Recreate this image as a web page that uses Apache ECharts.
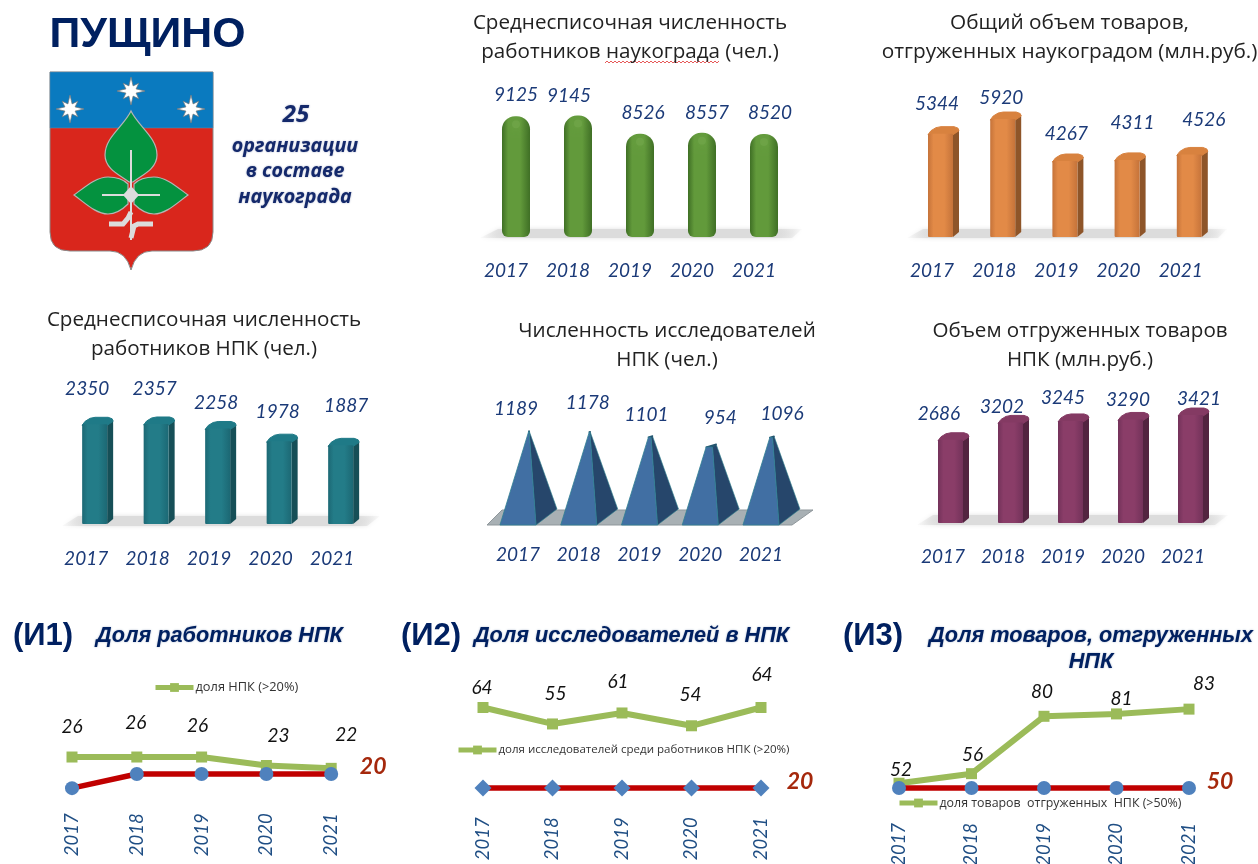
<!DOCTYPE html>
<html><head><meta charset="utf-8">
<style>html,body{margin:0;padding:0;background:#fff}#c{width:1258px;height:864px}</style>
<script src="https://cdn.jsdelivr.net/npm/echarts@6/dist/echarts.min.js"></script>
</head><body><div id="c"></div>
<script>
// ---------- data ----------
const years = ['2017','2018','2019','2020','2021'];
const staffScience = [9125,9145,8526,8557,8520];
const goodsScience = [5344,5920,4267,4311,4526];
const staffNpk = [2350,2357,2258,1978,1887];
const researchersNpk = [1189,1178,1101,954,1096];
const goodsNpk = [2686,3202,3245,3290,3421];
const shareStaff = [26,26,26,23,22];
const shareStaffTarget = [15,20,20,20,20];
const shareResearchers = [64,55,61,54,64];
const shareResearchersTarget = [20,20,20,20,20];
const shareGoods = [52,56,80,81,83];
const shareGoodsTarget = [50,50,50,50,50];

// ---------- layout ----------
const SANS = '"Open Sans","Noto Sans",sans-serif';
const NUM = 'Lato,"Open Sans",sans-serif';
const NAVY = '#1b3a78';
const H = (a,b,c)=>new echarts.graphic.LinearGradient(0,0,1,0,[{offset:0,color:a},{offset:.22,color:b},{offset:.65,color:b},{offset:1,color:a}]);
const option = {animation:false,backgroundColor:'#fff',grid:[],xAxis:[],yAxis:[],series:[],legend:[],title:[],graphic:[]};

function addAxes(g,axisMin,axisMax,label){
  const idx = option.grid.length;
  option.grid.push({left:g[0],top:g[1],width:g[2],height:g[3],outerBoundsMode:'none'});
  option.xAxis.push({type:'category',gridIndex:idx,data:years,axisLine:{show:false},axisTick:{show:false},
    axisLabel:Object.assign({interval:0,color:NAVY,fontFamily:NUM,fontStyle:'italic',fontSize:19,hideOverlap:false},label)});
  option.yAxis.push({type:'value',gridIndex:idx,min:axisMin,max:axisMax,show:false,splitLine:{show:false}});
  return idx;
}
function tLabel(x,y,v){
  return {type:'text',z2:50,style:{text:String(v),x,y,fill:NAVY,font:`italic 19px ${NUM}`,align:'center',verticalAlign:'middle'}};
}
function barSeries(idx,values,offs,render){
  option.series.push({type:'custom',xAxisIndex:idx,yAxisIndex:idx,clip:false,encode:{x:0,y:1},silent:true,
    data:values.map((v,i)=>[i,v]),
    renderItem(p,api){
      const i=api.value(0),v=api.value(1),pt=api.coord([i,v]);
      const base=api.coord([i,option.yAxis[idx].min])[1];
      const kids=render(pt[0],pt[1],base,api,i);
      kids.push(tLabel(pt[0]+offs[i][0],pt[1]+offs[i][1],v));
      return {type:'group',children:kids};
    }});
}
function cylinder(c,t,b){
  return [
    {type:'rect',shape:{x:c-14,y:t,width:28,height:b-t,r:[13,13,6,6]},style:{fill:H('#3f6f25','#629a3b')}},
    {type:'circle',shape:{cx:c,cy:t+8,r:4},style:{fill:'rgba(130,180,90,.3)',shadowBlur:8,shadowColor:'rgba(135,185,90,.8)'}}
  ];
}
function box(cols){
  return (c,t,b)=>[
    {type:'polygon',shape:{points:[[c+10,t+7],[c+16,t+3],[c+16,b-5],[c+10,b]]},style:{fill:cols.side}},
    {type:'polygon',shape:{points:[[c-15,t+8],[c-12,t+4],[c-7,t+1],[c-2,t],[c+11,t],[c+15,t+1.5],[c+16,t+4],[c+10,t+8]]},style:{fill:cols.top,stroke:cols.top,lineWidth:1,lineJoin:'round'}},
    {type:'rect',shape:{x:c-15,y:t+7,width:25,height:b-t-7,r:[1,1,1,1]},style:{fill:H(cols.a,cols.b)}}
  ];
}
function pyramid(axisMax){
  return (c,t,b,api,i)=>{
    const apexY=api.coord([i,axisMax])[1],apexX=c+11;
    const f=(b-t)/(b-apexY);
    const lerp=(x,y)=>[x+(apexX-x)*f,y+(apexY-y)*f];
    const fl=[c-18,b],fr=[c+18,b],br=[c+39,b-16],fl2=lerp(fl[0],fl[1]),fr2=lerp(fr[0],fr[1]),br2=lerp(br[0],br[1]);
    return [
      {type:'polygon',shape:{points:[fr,br,br2,fr2]},style:{fill:'#26466b',stroke:'#2b7f8c',lineWidth:.6}},
      {type:'polygon',shape:{points:[fl2,fr2,br2]},style:{fill:'#24556f',stroke:'#24556f',lineWidth:1.5,lineJoin:'round'}},
      {type:'polygon',shape:{points:[fl,fr,fr2,fl2]},style:{fill:'#416fa3',stroke:'#2f7f92',lineWidth:.8}}
    ];
  };
}
function floor(pts){
  const col='#dcdcdc';
  option.graphic.push({type:'polygon',z:0,shape:{points:pts},style:{
    fill:new echarts.graphic.LinearGradient(0,0,1,0,[{offset:0,color:'rgba(220,220,220,.1)'},{offset:.08,color:col},{offset:.92,color:col},{offset:1,color:'rgba(220,220,220,.1)'}]),
    shadowBlur:4,shadowColor:'rgba(215,215,215,.8)'}});
}

// ---------- top charts ----------
floor([[480,238],[498,229],[802,229],[792,238]]);
barSeries(addAxes([485,105.2,310,131.8],5000,9500,{margin:24,padding:[0,20,0,0]}),staffScience,
  [[0,-21],[-9,-20],[3,-21],[5,-20],[6,-21]],cylinder);

floor([[907,238],[923,229],[1227,229],[1218,238]]);
barSeries(addAxes([911.9,97.3,311,139.7],1000,6500,{margin:24,padding:[0,22,0,0]}),goodsScience,
  [[-6,-23],[-4,-14],[-1,-20],[3,-30],[12,-28]],
  box({a:'#c5733a',b:'#e28a47',side:'#8e5529',top:'#d8823f'}));

floor([[62,526],[78,516],[380,516],[367,526]]);
barSeries(addAxes([66.4,410.5,307.5,113.5],0,2500,{margin:25,padding:[0,22,0,0]}),staffNpk,
  [[-10,-28],[-4,-28],[-4,-19],[-4,-22],[3,-32]],
  box({a:'#1c6874',b:'#237c88',side:'#164f57',top:'#1f7a87'}));

// pyramid floor
option.graphic.push({type:'polygon',z:0,shape:{points:[[487,525],[792,525],[813,510],[502,510]]},style:{fill:'#a8b0b4',stroke:'#8f979b',lineWidth:1}});
barSeries(addAxes([487.6,430.5,303.75,94.5],-200,1200,{margin:20}),researchersNpk,
  [[-2,-22],[9,-29],[7,-22],[20,-29],[21,-24]],pyramid(1200));

floor([[917,525],[933,515],[1228,515],[1215,525]]);
barSeries(addAxes([923,405.4,300,117.6],0,3500,{margin:24,padding:[0,20,0,0]}),goodsNpk,
  [[-14,-19],[-11,-9],[-10,-16],[-5,-13],[6,-9]],
  box({a:'#73325a',b:'#8a3d68',side:'#532440',top:'#843a63'}));

// ---------- line charts ----------
function lineChart(g,min,max,margin,name,vals,target,offs,targetOff,tSym,tSize,legendPos){
  const idx=addAxes(g,min,max,{rotate:90,margin,fontSize:18.5,color:'#1f4e84'});
  option.series.push({name,type:'line',xAxisIndex:idx,yAxisIndex:idx,z:3,silent:true,
    lineStyle:{color:'#9bbb59',width:6},itemStyle:{color:'#9bbb59'},symbol:'rect',symbolSize:11,
    data:vals.map((v,i)=>({value:v,label:{show:true,position:'inside',offset:offs[i],color:'#111',fontFamily:NUM,fontStyle:'italic',fontSize:19}}))});
  option.series.push({name:name+' порог',type:'line',xAxisIndex:idx,yAxisIndex:idx,z:4,silent:true,
    lineStyle:{color:'#c00000',width:5.5},itemStyle:{color:'#4f81bd'},symbol:tSym,symbolSize:tSize,
    data:target.map((v,i)=>i===target.length-1?{value:v,label:{show:true,position:'inside',offset:targetOff,color:'#a5280c',fontFamily:NUM,fontStyle:'italic',fontWeight:'bold',fontSize:23}}:v)});
  option.legend.push({data:[{name}],left:legendPos[0],top:legendPos[1],itemWidth:38,itemHeight:11,itemGap:0,padding:0,
    selectedMode:false,lineStyle:{width:5},textStyle:{color:'#333',fontFamily:SANS,fontSize:legendPos[2],padding:[0,0,0,-3]}});
}
lineChart([39.6,745.7,324,56.6],10,30,11,'доля НПК (>20%)',shareStaff,shareStaffTarget,
  [[0,-30],[-1,-34],[-4,-31],[12,-30],[15,-33]],[42,-7],'circle',14,[153,681,12.8]);
lineChart([448.25,678.2,347.5,128.1],10,80,11,'доля исследователей среди работников НПК (>20%)',shareResearchers,shareResearchersTarget,
  [[-1,-20],[3,-30],[-4,-31],[-1,-31],[1,-33]],[39,-6],'diamond',17,[456,744,11.5]);
lineChart([862.75,668.5,362.5,143.4],40,100,11,'доля товаров  отгруженных  НПК (>50%)',shareGoods,shareGoodsTarget,
  [[2,-13],[1,-19],[-2,-24],[5,-15],[15,-25]],[31,-6],'circle',14,[897,797,12.4]);

// ---------- titles ----------
function addTitle(text,cx,y,size,lh,extra){
  option.title.push({text,left:cx,top:y,textAlign:'center',padding:0,itemGap:0,
    textStyle:Object.assign({color:'#222',fontFamily:SANS,fontWeight:'normal',fontSize:size,lineHeight:lh},extra||{})});
}
addTitle('Среднесписочная численность\nработников наукограда (чел.)',630,9,20.6,29);
addTitle('Общий объем товаров,\nотгруженных наукоградом (млн.руб.)',1069.5,9,20.8,29);
addTitle('Среднесписочная численность\nработников НПК (чел.)',204,306,20.6,29);
addTitle('Численность исследователей\nНПК (чел.)',667,317,20.6,29);
addTitle('Объем отгруженных товаров\nНПК (млн.руб.)',1080,317,20.6,29);

const HEAD={color:'#002060',fontFamily:'"Liberation Sans",Arial,sans-serif',fontWeight:'bold'};
addTitle('ПУЩИНО',147.5,11,42.8,48,HEAD);
const SUB=Object.assign({},HEAD,{fontStyle:'italic',fontSize:21.7,lineHeight:26,textShadowColor:'rgba(0,32,96,.35)',textShadowBlur:2});
addTitle('(И1)',43,618,31,36,HEAD);
addTitle('Доля работников НПК',219.5,623,21.7,26,SUB);
addTitle('(И2)',431,618,31,36,HEAD);
addTitle('Доля исследователей в НПК',631.5,623,21.7,26,SUB);
addTitle('(И3)',873,618,31,36,HEAD);
addTitle('Доля товаров, отгруженных\nНПК',1091,623,21.7,26,SUB);

const INFO={color:'#14296b',fontFamily:SANS,fontWeight:'bold',fontStyle:'italic',textShadowColor:'rgba(20,41,107,.4)',textShadowBlur:2};
addTitle('25',296,100,24,30,INFO);
addTitle('организации\nв составе\nнаукограда',295,133.5,19.7,25.5,INFO);

// spell-check squiggle under «наукограда»
const squiggle=[];for(let x=605,k=0;x<=720;x+=2,k++)squiggle.push([x,k%2?61:63]);
option.graphic.push({type:'polyline',z:5,shape:{points:squiggle},style:{stroke:'#e03030',lineWidth:.8,fill:null}});

// ---------- coat of arms (drawn as a none-coordinate custom series) ----------
const SHIELD='M50 72H213V232Q213 251 193 251H152Q136 251 131 270Q126 251 110 251H70Q50 251 50 232Z';
function star(cx,cy){
  const pts=[];for(let i=0;i<16;i++){const a=i*Math.PI/8-Math.PI/2,r=i%4===0?14:(i%2===0?11:5.5);pts.push([cx+r*Math.cos(a),cy+r*Math.sin(a)]);}
  return {type:'polygon',shape:{points:pts},style:{fill:'#fff',stroke:'#777',lineWidth:.7}};
}
const LEAF={fill:'#04923f',stroke:'#b5b5b5',lineWidth:1.2};
const SILVER='#dcdcdc';
option.series.push({type:'custom',coordinateSystem:'none',silent:true,z:6,data:[0],renderItem(){
  return {type:'group',children:[
    {type:'path',shape:{pathData:SHIELD},style:{fill:'#d9261c',stroke:'#8a8a8a',lineWidth:1}},
    {type:'rect',shape:{x:50,y:72,width:163,height:56},style:{fill:'#0a7abf',stroke:'#6f8fa5',lineWidth:.5}},
    star(131,91),star(70,109),star(191,109),
    {type:'path',shape:{pathData:'M131 111C124 126 105 137 105 155C105 169 120 175 129 182H133C142 175 157 169 157 155C157 137 138 126 131 111Z'},style:LEAF},
    {type:'path',shape:{pathData:'M74 195C85 187 96 177 108 177C117 177 124 180 128 184L128 204C122 210 115 214 108 214C96 214 85 203 74 195Z'},style:LEAF},
    {type:'path',shape:{pathData:'M188 195C177 187 166 177 154 177C145 177 138 180 134 184L134 204C140 210 147 214 154 214C166 214 177 203 188 195Z'},style:LEAF},
    {type:'polyline',shape:{points:[[131,150],[131,240]]},style:{stroke:SILVER,lineWidth:2,fill:null}},
    {type:'polyline',shape:{points:[[102,195],[160,195]]},style:{stroke:SILVER,lineWidth:2,fill:null}},
    {type:'polygon',shape:{points:[[131,186],[139,195],[131,204],[123,195]]},style:{fill:SILVER}},
    {type:'polyline',shape:{points:[[109,224],[123,224],[128,218],[131,212]]},style:{stroke:SILVER,lineWidth:5,fill:null}},
    {type:'polyline',shape:{points:[[131,238],[134,226],[138,224],[153,224]]},style:{stroke:SILVER,lineWidth:5,fill:null}}
  ]};
}});
echarts.init(document.getElementById('c'),null,{renderer:'canvas'}).setOption(option);
</script></body></html>
